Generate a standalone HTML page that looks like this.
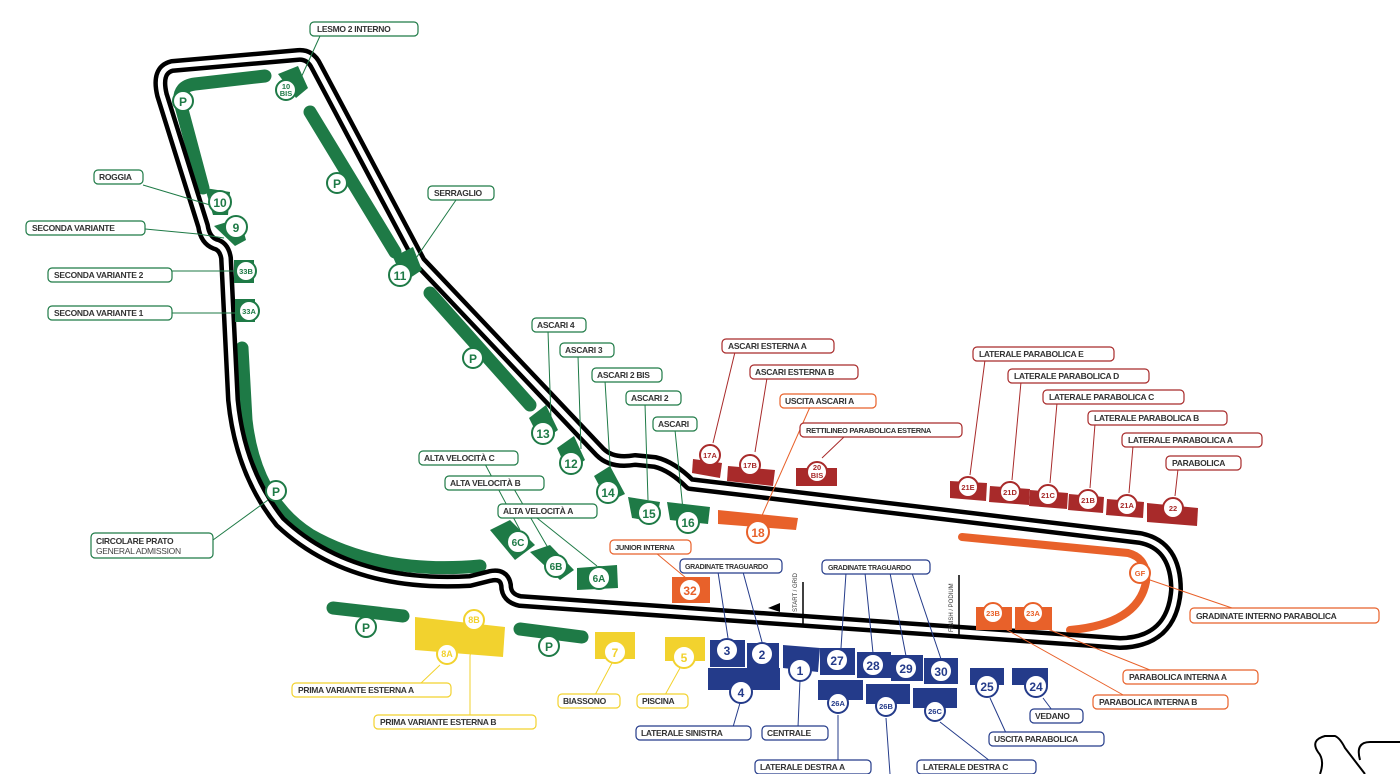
<!DOCTYPE html>
<html><head><meta charset="utf-8"><style>
html,body{margin:0;padding:0;background:#fff;}
svg{display:block;}
text{font-family:"Liberation Sans",sans-serif;font-weight:bold;}
.lb{font-size:8.5px;letter-spacing:-0.3px;}
.ct{font-size:12px;text-anchor:middle;}
.cs{font-size:7.5px;text-anchor:middle;}
.G{fill:#1e7a46}.R{fill:#a82a2a}.O{fill:#e8612a}.B{fill:#243b8a}.Y{fill:#f2d22e}
.tG{fill:#1e7a46}.tR{fill:#a82a2a}.tO{fill:#e8612a}.tB{fill:#243b8a}.tY{fill:#f2d22e}
.bG{fill:#fff;stroke:#1e7a46;stroke-width:1.2}.bR{fill:#fff;stroke:#a82a2a;stroke-width:1.2}.bO{fill:#fff;stroke:#e8612a;stroke-width:1.2}.bB{fill:#fff;stroke:#243b8a;stroke-width:1.2}.bY{fill:#fff;stroke:#f2d22e;stroke-width:1.2}
.cG{fill:#fff;stroke:#1e7a46;stroke-width:2}.cR{fill:#fff;stroke:#a82a2a;stroke-width:2}.cO{fill:#fff;stroke:#e8612a;stroke-width:2}.cB{fill:#fff;stroke:#243b8a;stroke-width:2}.cY{fill:#fff;stroke:#f2d22e;stroke-width:2}
.lG{stroke:#1e7a46;stroke-width:1;fill:none}.lR{stroke:#a82a2a;stroke-width:1;fill:none}.lO{stroke:#e8612a;stroke-width:1;fill:none}.lB{stroke:#243b8a;stroke-width:1;fill:none}.lY{stroke:#f2d22e;stroke-width:1;fill:none}
.lt{fill:#333}
</style></head><body>
<svg width="1400" height="774" viewBox="0 0 1400 774" xmlns="http://www.w3.org/2000/svg">
<!-- bands -->
<g fill="none" stroke-linecap="round" stroke-width="13">
<path d="M265,76 L195,84 Q178,86 180,102 L203,188" stroke="#1e7a46"/>
<path d="M310,112 L395,252" stroke="#1e7a46"/>
<path d="M430,293 L530,405" stroke="#1e7a46"/>
<path d="M242,348 L246,420 Q255,500 310,535 Q380,575 480,566" stroke="#1e7a46"/>
<path d="M333,608 L403,616" stroke="#1e7a46"/>
<path d="M520,629 L582,637" stroke="#1e7a46"/>
<path d="M962,537 L1128,553 Q1148,558 1146,582 Q1138,624 1070,630" stroke="#e8612a" stroke-width="8"/>
</g>
<!-- track -->
<g fill="none" stroke-linejoin="round">
<path d="M172,66 L298,55 Q310,54 316,66 L420,262 L600,452 Q612,464 635,460 L655,462 Q672,466 690,484 L1140,538 Q1176,545 1176,590 Q1172,642 1120,643 L520,601 Q506,598 506,585 Q504,573 490,576 L470,581 Q350,588 280,522 Q240,472 233,400 L226,258 Q224,246 215,244 Q205,240 203,226 L162,95 Q156,70 172,66 Z" stroke="#000" stroke-width="14"/>
<path d="M172,66 L298,55 Q310,54 316,66 L420,262 L600,452 Q612,464 635,460 L655,462 Q672,466 690,484 L1140,538 Q1176,545 1176,590 Q1172,642 1120,643 L520,601 Q506,598 506,585 Q504,573 490,576 L470,581 Q350,588 280,522 Q240,472 233,400 L226,258 Q224,246 215,244 Q205,240 203,226 L162,95 Q156,70 172,66 Z" stroke="#fff" stroke-width="5"/>
</g>
<!-- start/finish -->
<line x1="803" y1="582" x2="803" y2="625" stroke="#000" stroke-width="1.5"/>
<text x="0" y="0" transform="translate(797,612) rotate(-90)" style="font-size:6px;font-weight:normal" fill="#333">START / GRID</text>
<line x1="959" y1="575" x2="959" y2="636" stroke="#000" stroke-width="1.5"/>
<text x="0" y="0" transform="translate(953,632) rotate(-90)" style="font-size:6px;font-weight:normal" fill="#333">FINISH / PODIUM</text>
<polygon points="768,608 780,603 780,612" fill="#000"/>
<path d="M1400,742 L1370,742 Q1355,742 1360,760 M1320,774 Q1325,760 1318,752 Q1310,740 1325,736 L1335,736 Q1340,738 1345,748 L1365,774" fill="none" stroke="#000" stroke-width="2"/>

<!-- connectors -->
<g>
<path class="lG" d="M320,36 L300,80 M456,200 L412,264 M143,185 L210,205 M145,229 L198,234 L224,238 M172,271 L238,271 M172,313 L241,313 M548,331 L551,420 M578,356 L581,449 M605,381 L611,480 M645,404 L648,500 M675,430 L683,510 M485,464 L520,530 M514,489 L551,553 M537,518 L597,566 M213,540 L268,500"/>
<path class="lR" d="M735,352 L713,443 M767,378 L755,452 M845,436 L822,458 M985,360 L970,475 M1021,382 L1012,480 M1057,403 L1050,483 M1095,424 L1090,488 M1133,446 L1129,493 M1178,469 L1175,496"/>
<path class="lO" d="M810,407 L760,520 M656,553 L686,578 M1150,580 L1232,608 M1040,626 L1150,670 M1000,626 L1125,696"/>
<path class="lB" d="M718,572 L728,638 M743,572 L762,642 M846,573 L841,648 M865,573 L873,653 M890,573 L906,656 M912,573 L941,659 M740,703 L733,727 M800,680 L798,727 M838,715 L838,761 M886,718 L890,774 M940,722 L990,761 M990,698 L1006,733 M1043,698 L1052,710"/>
<path class="lY" d="M474,630 L470,656 L470,716 M440,665 L420,684 M612,663 L595,695 M680,668 L665,695"/>
</g>

<!-- green stands -->
<g class="G">
<polygon points="278,74 298,66 308,88 296,98"/>
<polygon points="205,188 230,192 228,215 213,215"/>
<polygon points="214,226 240,218 246,240 235,246"/>
<rect x="234" y="260" width="20" height="23"/>
<rect x="235" y="299" width="20" height="23"/>
<polygon points="393,257 413,247 422,270 404,282"/>
<polygon points="529,418 546,405 558,430 541,442"/>
<polygon points="557,448 574,436 585,460 568,472"/>
<polygon points="594,476 610,466 625,494 608,502"/>
<polygon points="628,497 660,502 656,522 632,518"/>
<polygon points="667,502 710,507 708,524 670,520"/>
<polygon points="490,530 510,520 535,545 515,560"/>
<polygon points="530,552 550,545 574,570 560,580"/>
<polygon points="577,568 617,565 618,588 577,590"/>
</g>
<g>
<circle class="cG" cx="183" cy="101" r="10"/><text class="ct tG" x="183" y="106">P</text>
<circle class="cG" cx="286" cy="90" r="10"/><text class="cs tG" x="286" y="89">10</text><text class="cs tG" x="286" y="96">BIS</text>
<circle class="cG" cx="337" cy="183" r="10"/><text class="ct tG" x="337" y="188">P</text>
<circle class="cG" cx="220" cy="202" r="11"/><text class="ct tG" x="220" y="207">10</text>
<circle class="cG" cx="236" cy="227" r="11"/><text class="ct tG" x="236" y="232">9</text>
<circle class="cG" cx="246" cy="271" r="10"/><text class="cs tG" x="246" y="274">33B</text>
<circle class="cG" cx="249" cy="311" r="10"/><text class="cs tG" x="249" y="314">33A</text>
<circle class="cG" cx="400" cy="275" r="11"/><text class="ct tG" x="400" y="280">11</text>
<circle class="cG" cx="473" cy="358" r="10"/><text class="ct tG" x="473" y="363">P</text>
<circle class="cG" cx="543" cy="433" r="11"/><text class="ct tG" x="543" y="438">13</text>
<circle class="cG" cx="571" cy="463" r="11"/><text class="ct tG" x="571" y="468">12</text>
<circle class="cG" cx="608" cy="492" r="11"/><text class="ct tG" x="608" y="497">14</text>
<circle class="cG" cx="649" cy="513" r="11"/><text class="ct tG" x="649" y="518">15</text>
<circle class="cG" cx="688" cy="522" r="11"/><text class="ct tG" x="688" y="527">16</text>
<circle class="cG" cx="276" cy="491" r="10"/><text class="ct tG" x="276" y="496">P</text>
<circle class="cG" cx="518" cy="542" r="11"/><text class="ct tG" x="518" y="546" style="font-size:10px">6C</text>
<circle class="cG" cx="556" cy="566" r="11"/><text class="ct tG" x="556" y="570" style="font-size:10px">6B</text>
<circle class="cG" cx="599" cy="578" r="11"/><text class="ct tG" x="599" y="582" style="font-size:10px">6A</text>
<circle class="cG" cx="366" cy="627" r="10"/><text class="ct tG" x="366" y="632">P</text>
<circle class="cG" cx="549" cy="646" r="10"/><text class="ct tG" x="549" y="651">P</text>
</g>
<!-- yellow -->
<g class="Y">
<polygon points="415,617 505,627 503,657 415,650"/>
<rect x="595" y="632" width="40" height="27"/>
<rect x="665" y="637" width="40" height="24"/>
</g>
<circle class="cY" cx="474" cy="620" r="10"/><text class="cs tY" x="474" y="623" style="font-size:9px">8B</text>
<circle class="cY" cx="447" cy="654" r="10"/><text class="cs tY" x="447" y="657" style="font-size:9px">8A</text>
<circle class="cY" cx="615" cy="652" r="11"/><text class="ct tY" x="615" y="657">7</text>
<circle class="cY" cx="684" cy="657" r="11"/><text class="ct tY" x="684" y="662">5</text>
<!-- orange -->
<g class="O">
<polygon points="718,510 798,518 796,530 718,524"/>
<rect x="672" y="577" width="38" height="26"/>
<rect x="976" y="607" width="36" height="23"/><rect x="1015" y="607" width="37" height="23"/>
</g>
<circle class="cO" cx="758" cy="532" r="11"/><text class="ct tO" x="758" y="537">18</text>
<circle class="cO" cx="690" cy="590" r="11"/><text class="ct tO" x="690" y="595">32</text>
<circle class="cO" cx="1140" cy="573" r="10"/><text class="cs tO" x="1140" y="576">GF</text>
<circle class="cO" cx="993" cy="613" r="10"/><text class="cs tO" x="993" y="616">23B</text>
<circle class="cO" cx="1033" cy="613" r="10"/><text class="cs tO" x="1033" y="616">23A</text>
<!-- red -->
<g class="R">
<polygon points="693,459 722,463 720,478 692,473"/>
<polygon points="728,466 775,470 773,486 727,481"/>
<rect x="796" y="468" width="41" height="18"/>
<polygon points="950,481 987,483 986,501 950,498"/>
<polygon points="990,486 1030,489 1029,505 989,502"/>
<polygon points="1030,490 1068,493 1067,509 1029,506"/>
<polygon points="1069,494 1104,497 1103,513 1068,510"/>
<polygon points="1107,499 1144,502 1143,518 1106,515"/>
<polygon points="1147,503 1198,508 1197,526 1147,522"/>
</g>
<g>
<circle class="cR" cx="710" cy="455" r="10"/><text class="cs tR" x="710" y="458">17A</text>
<circle class="cR" cx="750" cy="465" r="10"/><text class="cs tR" x="750" y="468">17B</text>
<circle class="cR" cx="817" cy="472" r="10"/><text class="cs tR" x="817" y="470">20</text><text class="cs tR" x="817" y="478">BIS</text>
<circle class="cR" cx="968" cy="487" r="10"/><text class="cs tR" x="968" y="490">21E</text>
<circle class="cR" cx="1010" cy="492" r="10"/><text class="cs tR" x="1010" y="495">21D</text>
<circle class="cR" cx="1048" cy="495" r="10"/><text class="cs tR" x="1048" y="498">21C</text>
<circle class="cR" cx="1088" cy="500" r="10"/><text class="cs tR" x="1088" y="503">21B</text>
<circle class="cR" cx="1127" cy="505" r="10"/><text class="cs tR" x="1127" y="508">21A</text>
<circle class="cR" cx="1173" cy="508" r="10"/><text class="cs tR" x="1173" y="511">22</text>
</g>
<!-- blue -->
<g class="B">
<rect x="710" y="640" width="35" height="27"/><rect x="747" y="643" width="32" height="26"/>
<rect x="708" y="668" width="72" height="22"/>
<polygon points="783,645 820,648 818,672 783,668"/>
<rect x="820" y="648" width="35" height="27"/><rect x="857" y="652" width="34" height="26"/><rect x="891" y="655" width="32" height="26"/><rect x="924" y="658" width="34" height="26"/>
<rect x="818" y="680" width="45" height="20"/><rect x="866" y="684" width="44" height="20"/><rect x="913" y="688" width="44" height="20"/>
<rect x="970" y="668" width="34" height="17"/><rect x="1012" y="668" width="36" height="17"/>
</g>
<g>
<circle class="cB" cx="727" cy="650" r="11"/><text class="ct tB" x="727" y="655">3</text>
<circle class="cB" cx="762" cy="654" r="11"/><text class="ct tB" x="762" y="659">2</text>
<circle class="cB" cx="800" cy="670" r="11"/><text class="ct tB" x="800" y="675">1</text>
<circle class="cB" cx="741" cy="692" r="11"/><text class="ct tB" x="741" y="697">4</text>
<circle class="cB" cx="837" cy="660" r="11"/><text class="ct tB" x="837" y="665">27</text>
<circle class="cB" cx="873" cy="665" r="11"/><text class="ct tB" x="873" y="670">28</text>
<circle class="cB" cx="906" cy="668" r="11"/><text class="ct tB" x="906" y="673">29</text>
<circle class="cB" cx="941" cy="671" r="11"/><text class="ct tB" x="941" y="676">30</text>
<circle class="cB" cx="838" cy="703" r="10"/><text class="cs tB" x="838" y="706">26A</text>
<circle class="cB" cx="886" cy="706" r="10"/><text class="cs tB" x="886" y="709">26B</text>
<circle class="cB" cx="935" cy="711" r="10"/><text class="cs tB" x="935" y="714">26C</text>
<circle class="cB" cx="987" cy="686" r="11"/><text class="ct tB" x="987" y="691">25</text>
<circle class="cB" cx="1036" cy="686" r="11"/><text class="ct tB" x="1036" y="691">24</text>
</g>

<!-- labels -->
<g>
<rect class="bG" x="310" y="22" width="108" height="14" rx="4"/><text class="lb lt" x="317" y="32">LESMO 2 INTERNO</text>
<rect class="bG" x="428" y="186" width="66" height="14" rx="4"/><text class="lb lt" x="434" y="196">SERRAGLIO</text>
<rect class="bG" x="94" y="170" width="49" height="14" rx="4"/><text class="lb lt" x="99" y="180">ROGGIA</text>
<rect class="bG" x="26" y="221" width="119" height="14" rx="4"/><text class="lb lt" x="32" y="231">SECONDA VARIANTE</text>
<rect class="bG" x="48" y="268" width="124" height="14" rx="4"/><text class="lb lt" x="54" y="278">SECONDA VARIANTE 2</text>
<rect class="bG" x="48" y="306" width="124" height="14" rx="4"/><text class="lb lt" x="54" y="316">SECONDA VARIANTE 1</text>
<rect class="bG" x="532" y="318" width="54" height="14" rx="4"/><text class="lb lt" x="537" y="328">ASCARI 4</text>
<rect class="bG" x="560" y="343" width="54" height="14" rx="4"/><text class="lb lt" x="565" y="353">ASCARI 3</text>
<rect class="bG" x="592" y="368" width="70" height="14" rx="4"/><text class="lb lt" x="597" y="378">ASCARI 2 BIS</text>
<rect class="bG" x="626" y="391" width="55" height="14" rx="4"/><text class="lb lt" x="631" y="401">ASCARI 2</text>
<rect class="bG" x="653" y="417" width="44" height="14" rx="4"/><text class="lb lt" x="658" y="427">ASCARI</text>
<rect class="bG" x="419" y="451" width="99" height="14" rx="4"/><text class="lb lt" x="424" y="461">ALTA VELOCITÀ C</text>
<rect class="bG" x="445" y="476" width="99" height="14" rx="4"/><text class="lb lt" x="450" y="486">ALTA VELOCITÀ B</text>
<rect class="bG" x="498" y="504" width="99" height="14" rx="4"/><text class="lb lt" x="503" y="514">ALTA VELOCITÀ A</text>
<rect class="bG" x="91" y="533" width="122" height="25" rx="4"/><text class="lb lt" x="96" y="544">CIRCOLARE PRATO</text><text class="lb" x="96" y="554" style="font-weight:normal" fill="#444">GENERAL ADMISSION</text>

<rect class="bR" x="722" y="339" width="112" height="14" rx="4"/><text class="lb lt" x="728" y="349">ASCARI ESTERNA A</text>
<rect class="bR" x="750" y="365" width="108" height="14" rx="4"/><text class="lb lt" x="755" y="375">ASCARI ESTERNA B</text>
<rect class="bO" x="780" y="394" width="96" height="14" rx="4"/><text class="lb lt" x="785" y="404">USCITA ASCARI A</text>
<rect class="bR" x="800" y="423" width="162" height="14" rx="4"/><text class="lb lt" x="806" y="433" style="font-size:7.5px">RETTILINEO PARABOLICA ESTERNA</text>
<rect class="bR" x="973" y="347" width="141" height="14" rx="4"/><text class="lb lt" x="979" y="357">LATERALE PARABOLICA E</text>
<rect class="bR" x="1008" y="369" width="141" height="14" rx="4"/><text class="lb lt" x="1014" y="379">LATERALE PARABOLICA D</text>
<rect class="bR" x="1043" y="390" width="141" height="14" rx="4"/><text class="lb lt" x="1049" y="400">LATERALE PARABOLICA C</text>
<rect class="bR" x="1088" y="411" width="139" height="14" rx="4"/><text class="lb lt" x="1094" y="421">LATERALE PARABOLICA B</text>
<rect class="bR" x="1122" y="433" width="140" height="14" rx="4"/><text class="lb lt" x="1128" y="443">LATERALE PARABOLICA A</text>
<rect class="bR" x="1166" y="456" width="75" height="14" rx="4"/><text class="lb lt" x="1172" y="466">PARABOLICA</text>

<rect class="bO" x="610" y="540" width="81" height="14" rx="4"/><text class="lb lt" x="615" y="550" style="font-size:7.5px">JUNIOR INTERNA</text>
<rect class="bO" x="1190" y="608" width="189" height="15" rx="4"/><text class="lb lt" x="1196" y="619">GRADINATE INTERNO PARABOLICA</text>
<rect class="bO" x="1123" y="670" width="135" height="14" rx="4"/><text class="lb lt" x="1129" y="680">PARABOLICA INTERNA A</text>
<rect class="bO" x="1093" y="695" width="135" height="14" rx="4"/><text class="lb lt" x="1099" y="705">PARABOLICA INTERNA B</text>

<rect class="bB" x="680" y="559" width="102" height="14" rx="4"/><text class="lb lt" x="685" y="569" style="font-size:7px">GRADINATE TRAGUARDO</text>
<rect class="bB" x="822" y="560" width="108" height="14" rx="4"/><text class="lb lt" x="828" y="570" style="font-size:7px">GRADINATE TRAGUARDO</text>
<rect class="bB" x="636" y="726" width="115" height="14" rx="4"/><text class="lb lt" x="641" y="736">LATERALE SINISTRA</text>
<rect class="bB" x="762" y="726" width="66" height="14" rx="4"/><text class="lb lt" x="767" y="736">CENTRALE</text>
<rect class="bB" x="755" y="760" width="116" height="14" rx="4"/><text class="lb lt" x="760" y="770">LATERALE DESTRA A</text>
<rect class="bB" x="917" y="760" width="119" height="14" rx="4"/><text class="lb lt" x="923" y="770">LATERALE DESTRA C</text>
<rect class="bB" x="989" y="732" width="115" height="14" rx="4"/><text class="lb lt" x="994" y="742">USCITA PARABOLICA</text>
<rect class="bB" x="1030" y="709" width="53" height="14" rx="4"/><text class="lb lt" x="1035" y="719">VEDANO</text>

<rect class="bY" x="292" y="683" width="159" height="14" rx="4"/><text class="lb lt" x="298" y="693">PRIMA VARIANTE ESTERNA A</text>
<rect class="bY" x="374" y="715" width="162" height="14" rx="4"/><text class="lb lt" x="380" y="725">PRIMA VARIANTE ESTERNA B</text>
<rect class="bY" x="558" y="694" width="62" height="14" rx="4"/><text class="lb lt" x="563" y="704">BIASSONO</text>
<rect class="bY" x="637" y="694" width="51" height="14" rx="4"/><text class="lb lt" x="642" y="704">PISCINA</text>
</g>
</svg>
</body></html>
